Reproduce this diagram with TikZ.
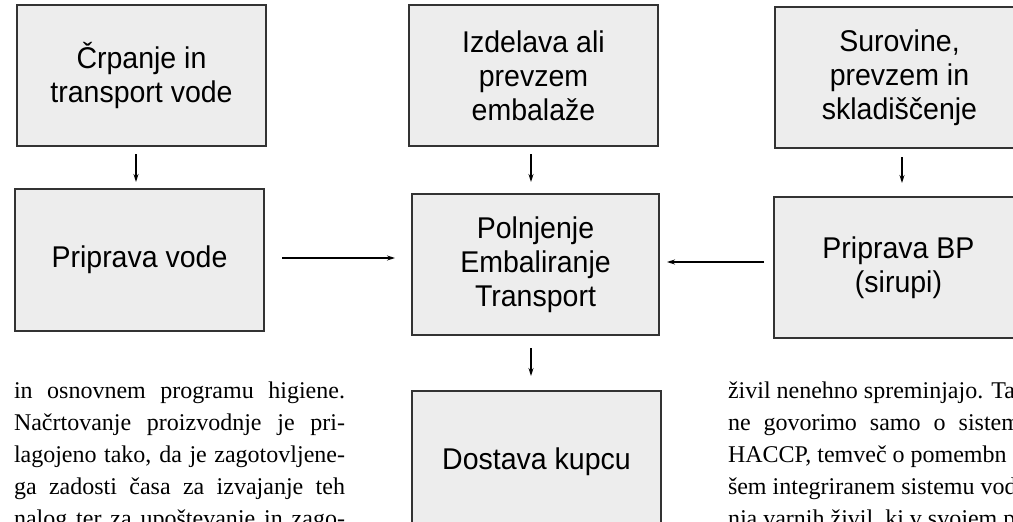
\documentclass[tikz,border=0pt]{standalone}
\usepackage{fontspec}
\usetikzlibrary{arrows.meta,calc}
\newfontfamily\boxfont{Liberation Sans}[FakeStretch=0.95]
\newfontfamily\bodyfont{Liberation Serif}
\definecolor{boxfill}{HTML}{EDEDED}
\definecolor{boxline}{HTML}{333333}
\tikzset{
  procbox/.style={draw=boxline, fill=boxfill, line width=1.1pt, minimum width=249pt,
    minimum height=141pt, inner sep=0pt, outer sep=0pt, align=center, anchor=north west,
    font=\boxfont\fontsize{30}{34}\selectfont},
  flow/.style={line width=1.1pt, -{Stealth[length=8pt,width=5pt]}},
  bodyline/.style={anchor=base west, inner sep=0pt, outer sep=0pt,
    font=\bodyfont\fontsize{24}{32}\selectfont}
}
\begin{document}
\begin{tikzpicture}[x=1pt,y=-1pt]
\useasboundingbox (0,0) rectangle (1013,522);
\clip (0,0) rectangle (1013,522);
\fill[white] (0,0) rectangle (1013,522);

% boxes
\node[procbox] (A) at (17,5) {Črpanje in\\transport vode};
\node[procbox, minimum height=142pt] (B) at (15,189) {Priprava vode};
\node[procbox] (C) at (409,5) {Izdelava ali\\prevzem\\embalaže};
\node[procbox, minimum width=247pt] (D) at (412,194) {Polnjenje\\Embaliranje\\Transport};
\node[procbox] (E) at (775,7) {Surovine,\\prevzem in\\skladiščenje};
\node[procbox] (F) at (774,197) {Priprava BP\\(sirupi)};
\node[procbox, minimum height=142pt] (G) at (412,391) {Dostava kupcu};

% connectors
\draw[flow] ($(A.south)+(-5.5,8)$) -- ($(B.north)+(-3.5,-7)$);
\draw[flow] ($(C.south)+(-2.5,8)$) -- ($(D.north)+(-4.5,-12)$);
\draw[flow] ($(D.south)+(-4.5,13)$) -- ($(G.north)+(-5.5,-15)$);
\draw[flow] ($(E.south)+(2.5,9)$) -- ($(F.north)+(3.5,-14)$);
\draw[flow] ($(B.east)+(18,-2)$) -- ($(D.west)+(-17,-6.5)$);
\draw[flow] ($(F.west)+(-10,-5.5)$) -- ($(D.east)+(8,-2.5)$);

% body text, left column
\node[bodyline] (l1) at (14,398) {\makebox[331pt][s]{in osnovnem programu higiene.}};
\node[bodyline] (l2) at (14,430) {\makebox[331pt][s]{Načrtovanje proizvodnje je pri-}};
\node[bodyline] (l3) at (14,462) {\makebox[331pt][s]{lagojeno tako, da je zagotovljene-}};
\node[bodyline] (l4) at (14,494) {\makebox[331pt][s]{ga zadosti časa za izvajanje teh}};
\node[bodyline] (l5) at (14,526) {\makebox[331pt][s]{nalog ter za upoštevanje in zago-}};

% body text, right column
\node[bodyline] (r1) at (728,398) {živil nenehno spreminjajo. Tal};
\node[bodyline] (r2) at (728,430) {\makebox[292pt][s]{ne govorimo samo o sistem}};
\node[bodyline] (r3) at (728,462) {HACCP, temveč o pomembn};
\node[bodyline] (r4) at (728,494) {šem integriranem sistemu vod};
\node[bodyline] (r5) at (728,526) {nja varnih živil, ki v svojem po};
\end{tikzpicture}
\end{document}
